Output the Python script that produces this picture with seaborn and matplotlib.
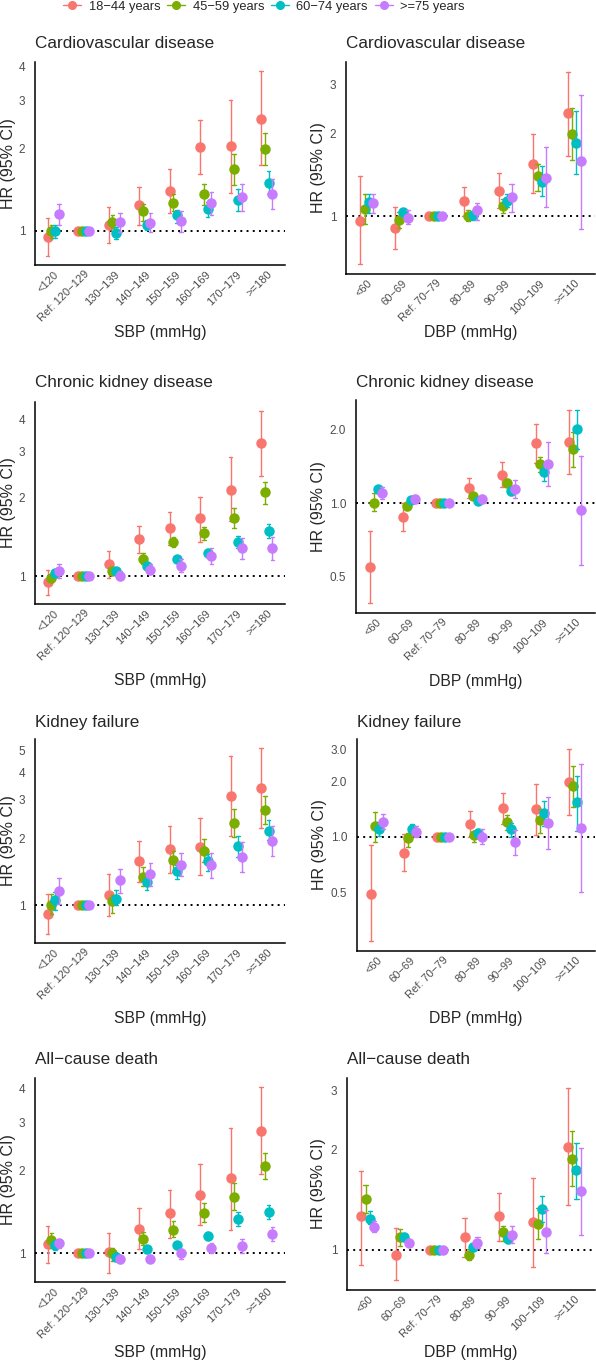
import numpy as np
import pandas as pd
import matplotlib
matplotlib.use("Agg")
import matplotlib.pyplot as plt
import seaborn as sns
from matplotlib.lines import Line2D
from matplotlib.ticker import FixedLocator, FixedFormatter, NullLocator

# ---------------- data ----------------
groups = ["18\u221244 years", "45\u221259 years", "60\u221274 years", ">=75 years"]
colors = ["#F8766D", "#7CAE00", "#00BFC4", "#C77CFF"]

sbp_cats = ["<120", "Ref: 120\u2212129", "130\u2212139", "140\u2212149", "150\u2212159",
            "160\u2212169", "170\u2212179", ">=180"]
dbp_cats = ["<60", "60\u221269", "Ref: 70\u221279", "80\u221289", "90\u221299",
            "100\u2212109", ">=110"]

# Cardiovascular disease - SBP  (rows: age groups; cols: categories)
cvd_sbp_hr = [[0.95, 1, 1.05, 1.24, 1.40, 2.03, 2.04, 2.58],
              [1.00, 1, 1.075, 1.18, 1.27, 1.36, 1.68, 2.00],
              [1.00, 1, 0.98, 1.05, 1.14, 1.20, 1.30, 1.50],
              [1.15, 1, 1.075, 1.07, 1.09, 1.27, 1.33, 1.36]]
cvd_sbp_lo = [[0.81, 1, 0.90, 1.05, 1.16, 1.61, 1.38, 1.74],
              [0.94, 1, 1.02, 1.09, 1.18, 1.24, 1.47, 1.74],
              [0.94, 1, 0.93, 1.01, 1.07, 1.12, 1.18, 1.37],
              [1.05, 1, 0.99, 0.99, 0.99, 1.14, 1.18, 1.20]]
cvd_sbp_hi = [[1.11, 1, 1.22, 1.45, 1.69, 2.56, 3.02, 3.85],
              [1.05, 1, 1.14, 1.25, 1.36, 1.49, 1.91, 2.29],
              [1.05, 1, 1.03, 1.10, 1.19, 1.28, 1.42, 1.66],
              [1.25, 1, 1.16, 1.16, 1.18, 1.39, 1.49, 1.55]]

# Cardiovascular disease - DBP
cvd_dbp_hr = [[0.965, 0.91, 1, 1.14, 1.24, 1.55, 2.36],
              [1.06, 0.97, 1, 1.00, 1.09, 1.40, 1.99],
              [1.13, 1.04, 1, 1.01, 1.14, 1.33, 1.85],
              [1.12, 0.99, 1, 1.05, 1.17, 1.38, 1.58]]
cvd_dbp_lo = [[0.67, 0.76, 1, 1.00, 1.07, 1.21, 1.66],
              [0.94, 0.91, 1, 0.96, 1.025, 1.24, 1.60],
              [1.03, 1.01, 1, 0.97, 1.08, 1.18, 1.42],
              [1.03, 0.94, 1, 0.97, 1.04, 1.08, 0.90]]
cvd_dbp_hi = [[1.40, 1.08, 1, 1.28, 1.43, 1.98, 3.34],
              [1.20, 1.04, 1, 1.05, 1.155, 1.55, 2.47],
              [1.20, 1.06, 1, 1.04, 1.20, 1.52, 2.41],
              [1.20, 1.05, 1, 1.12, 1.31, 1.78, 2.76]]

# Chronic kidney disease - SBP
ckd_sbp_hr = [[0.95, 1, 1.12, 1.39, 1.53, 1.67, 2.15, 3.23],
              [0.99, 1, 1.05, 1.17, 1.35, 1.46, 1.67, 2.10],
              [1.03, 1, 1.05, 1.10, 1.17, 1.23, 1.35, 1.49],
              [1.05, 1, 1.006, 1.06, 1.10, 1.20, 1.28, 1.28]]
ckd_sbp_lo = [[0.85, 1, 0.99, 1.23, 1.32, 1.36, 1.63, 2.42],
              [0.95, 1, 1.02, 1.12, 1.29, 1.38, 1.53, 1.90],
              [1.01, 1, 1.02, 1.07, 1.13, 1.19, 1.28, 1.40],
              [0.99, 1, 0.965, 1.02, 1.04, 1.12, 1.17, 1.16]]
ckd_sbp_hi = [[1.06, 1, 1.25, 1.56, 1.77, 2.02, 2.86, 4.29],
              [1.02, 1, 1.085, 1.23, 1.41, 1.55, 1.82, 2.30],
              [1.06, 1, 1.08, 1.13, 1.20, 1.27, 1.43, 1.59],
              [1.12, 1, 1.05, 1.12, 1.17, 1.28, 1.40, 1.42]]

# Chronic kidney disease - DBP
ckd_dbp_hr = [[0.55, 0.88, 1, 1.155, 1.30, 1.76, 1.78],
              [1.00, 0.975, 1, 1.075, 1.21, 1.44, 1.67],
              [1.14, 1.03, 1, 1.02, 1.12, 1.34, 2.01],
              [1.10, 1.04, 1, 1.04, 1.14, 1.44, 0.94]]
ckd_dbp_lo = [[0.39, 0.77, 1, 1.055, 1.16, 1.46, 1.31],
              [0.93, 0.94, 1, 1.05, 1.17, 1.34, 1.41],
              [1.10, 1.005, 1, 1.00, 1.08, 1.23, 1.67],
              [1.045, 1.00, 1, 1.00, 1.055, 1.18, 0.56]]
ckd_dbp_hi = [[0.77, 1.00, 1, 1.27, 1.47, 2.10, 2.41],
              [1.10, 1.005, 1, 1.09, 1.25, 1.55, 1.96],
              [1.18, 1.05, 1, 1.04, 1.155, 1.44, 2.41],
              [1.16, 1.08, 1, 1.08, 1.24, 1.77, 1.56]]

# Kidney failure - SBP
kf_sbp_hr = [[0.917, 1, 1.117, 1.58, 1.79, 1.83, 3.12, 3.39],
             [1.007, 1, 1.046, 1.35, 1.60, 1.77, 2.36, 2.70],
             [1.053, 1, 1.07, 1.27, 1.43, 1.58, 1.85, 2.18],
             [1.16, 1, 1.30, 1.38, 1.53, 1.53, 1.65, 1.95]]
kf_sbp_lo = [[0.745, 1, 0.90, 1.27, 1.40, 1.37, 2.06, 2.24],
             [0.91, 1, 0.92, 1.23, 1.42, 1.57, 2.03, 2.34],
             [0.956, 1, 1.00, 1.18, 1.32, 1.43, 1.65, 1.97],
             [1.02, 1, 1.14, 1.22, 1.36, 1.33, 1.41, 1.68]]
kf_sbp_hi = [[1.13, 1, 1.38, 1.95, 2.28, 2.48, 4.74, 5.13],
             [1.13, 1, 1.12, 1.49, 1.77, 1.99, 2.73, 3.12],
             [1.15, 1, 1.17, 1.37, 1.52, 1.71, 2.07, 2.42],
             [1.33, 1, 1.46, 1.55, 1.72, 1.73, 1.93, 2.29]]

# Kidney failure - DBP
kf_dbp_hr = [[0.49, 0.82, 1, 1.17, 1.43, 1.41, 1.98],
             [1.14, 0.98, 1, 1.02, 1.20, 1.24, 1.88],
             [1.11, 1.11, 1, 1.055, 1.10, 1.34, 1.54],
             [1.21, 1.06, 1, 1.00, 0.94, 1.19, 1.12]]
kf_dbp_lo = [[0.27, 0.65, 1, 1.00, 1.18, 1.025, 1.31],
             [0.935, 0.886, 1, 0.94, 1.09, 1.055, 1.45],
             [1.01, 1.055, 1, 1.00, 1.00, 1.14, 1.08],
             [1.105, 1.00, 1, 0.91, 0.80, 0.86, 0.50]]
kf_dbp_hi = [[0.905, 1.03, 1, 1.38, 1.73, 1.94, 3.02],
             [1.36, 1.055, 1, 1.08, 1.32, 1.41, 2.44],
             [1.21, 1.17, 1, 1.10, 1.19, 1.57, 2.14],
             [1.33, 1.14, 1, 1.10, 1.09, 1.64, 2.49]]

# All-cause death - SBP
acd_sbp_hr = [[1.08, 1, 1.014, 1.23, 1.41, 1.63, 1.88, 2.80],
              [1.12, 1, 1.006, 1.125, 1.22, 1.41, 1.61, 2.08],
              [1.07, 1, 0.97, 1.035, 1.07, 1.16, 1.34, 1.42],
              [1.09, 1, 0.95, 0.956, 1.00, 1.05, 1.06, 1.18]]
acd_sbp_lo = [[0.925, 1, 0.85, 1.035, 1.14, 1.27, 1.22, 1.95],
              [1.05, 1, 0.94, 1.07, 1.15, 1.30, 1.44, 1.87],
              [1.025, 1, 0.94, 1.005, 1.04, 1.12, 1.26, 1.34],
              [1.05, 1, 0.925, 0.93, 0.956, 1.005, 1.00, 1.11]]
acd_sbp_hi = [[1.26, 1, 1.19, 1.47, 1.71, 2.12, 2.86, 4.04],
              [1.19, 1, 1.05, 1.20, 1.31, 1.53, 1.80, 2.32],
              [1.12, 1, 1.005, 1.06, 1.10, 1.20, 1.42, 1.50],
              [1.125, 1, 0.97, 0.983, 1.035, 1.09, 1.125, 1.25]]

# All-cause death - DBP
acd_dbp_hr = [[1.26, 0.966, 1, 1.09, 1.26, 1.21, 2.04],
              [1.42, 1.09, 1, 0.966, 1.13, 1.20, 1.87],
              [1.24, 1.09, 1, 1.018, 1.08, 1.33, 1.74],
              [1.17, 1.05, 1, 1.047, 1.11, 1.13, 1.50]]
acd_dbp_lo = [[0.90, 0.81, 1, 0.955, 1.066, 0.89, 1.36],
              [1.29, 1.03, 1, 0.93, 1.06, 1.08, 1.55],
              [1.20, 1.06, 1, 0.995, 1.047, 1.21, 1.42],
              [1.13, 1.03, 1, 1.01, 1.047, 0.98, 1.11]]
acd_dbp_hi = [[1.73, 1.16, 1, 1.25, 1.48, 1.64, 3.07],
              [1.57, 1.155, 1, 1.007, 1.18, 1.34, 2.27],
              [1.31, 1.12, 1, 1.04, 1.12, 1.45, 2.10],
              [1.22, 1.075, 1, 1.09, 1.18, 1.32, 2.02]]

titles = ["Cardiovascular disease", "Chronic kidney disease", "Kidney failure",
          "All\u2212cause death"]

# ---------------- style ----------------
sns.set_style("white")
plt.rcParams["font.family"] = ["Liberation Sans", "DejaVu Sans"]

W, H = 596, 1364
fig = plt.figure(figsize=(W / 100, H / 100), dpi=100)

# panel boxes in pixels: left, top, right, bottom ; title center y ; xlabel center y ; ylabel center x
panels = [
    (titles[0], sbp_cats, "SBP (mmHg)", cvd_sbp_hr, cvd_sbp_lo, cvd_sbp_hi, [1, 2, 3, 4], ["1", "2", "3", "4"],
     (35, 62, 285, 265), 43, 333, 9),
    (titles[0], dbp_cats, "DBP (mmHg)", cvd_dbp_hr, cvd_dbp_lo, cvd_dbp_hi, [1, 2, 3], ["1", "2", "3"],
     (346, 62, 595, 274), 43, 333, 319),
    (titles[1], sbp_cats, "SBP (mmHg)", ckd_sbp_hr, ckd_sbp_lo, ckd_sbp_hi, [1, 2, 3, 4], ["1", "2", "3", "4"],
     (35, 402, 285, 604), 382, 680, 9),
    (titles[1], dbp_cats, "DBP (mmHg)", ckd_dbp_hr, ckd_dbp_lo, ckd_dbp_hi, [0.5, 1, 2], ["0.5", "1.0", "2.0"],
     (356, 400, 595, 613), 382, 681, 319),
    (titles[2], sbp_cats, "SBP (mmHg)", kf_sbp_hr, kf_sbp_lo, kf_sbp_hi, [1, 2, 3, 4, 5], ["1", "2", "3", "4", "5"],
     (35, 739, 285, 943), 722, 1018, 9),
    (titles[2], dbp_cats, "DBP (mmHg)", kf_dbp_hr, kf_dbp_lo, kf_dbp_hi, [0.5, 1, 2, 3], ["0.5", "1.0", "2.0", "3.0"],
     (357, 739, 595, 951), 722, 1019, 319),
    (titles[3], sbp_cats, "SBP (mmHg)", acd_sbp_hr, acd_sbp_lo, acd_sbp_hi, [1, 2, 3, 4], ["1", "2", "3", "4"],
     (35, 1078, 285, 1282), 1059, 1353, 9),
    (titles[3], dbp_cats, "DBP (mmHg)", acd_dbp_hr, acd_dbp_lo, acd_dbp_hi, [1, 2, 3], ["1", "2", "3"],
     (347, 1078, 595, 1290), 1059, 1353, 319),
]

for (title, cats, xlab, hr, lo, hi, yt, ytl, box, ty, xly, ylx) in panels:
    l, t, r, b = box
    ax = fig.add_axes([l / W, 1 - b / H, (r - l) / W, (b - t) / H])
    rows = []
    for gi, g in enumerate(groups):
        for ci, c in enumerate(cats):
            for v in (lo[gi][ci], hr[gi][ci], hi[gi][ci]):
                rows.append((c, g, v))
    df = pd.DataFrame(rows, columns=["cat", "group", "hr"])
    ax.set_yscale("log")
    ax.axhline(1, color="black", lw=1.4, linestyle=(0, (1, 2.2)), zorder=1)
    sns.pointplot(data=df, x="cat", y="hr", hue="group", order=cats, hue_order=groups,
                  palette=colors, estimator="median", errorbar=("pi", 100),
                  dodge=0.375, markers="o", linestyle="none", markersize=5.5,
                  capsize=0.12, err_kws={"linewidth": 1.0}, legend=False, ax=ax)
    # ggplot-like 5% expansion on the log scale
    ymin = min(min(x) for x in lo)
    ymax = max(max(x) for x in hi)
    lr = np.log(ymax) - np.log(ymin)
    ax.set_ylim(np.exp(np.log(ymin) - 0.05 * lr), np.exp(np.log(ymax) + 0.05 * lr))
    ax.set_xlim(-0.6, len(cats) - 0.4)
    ax.yaxis.set_major_locator(FixedLocator(yt))
    ax.yaxis.set_major_formatter(FixedFormatter(ytl))
    ax.yaxis.set_minor_locator(NullLocator())
    for s in ["top", "right"]:
        ax.spines[s].set_visible(False)
    for s in ["left", "bottom"]:
        ax.spines[s].set_color("black")
        ax.spines[s].set_linewidth(1.1)
    ax.tick_params(axis="y", length=0, pad=7, labelsize=8.5, labelcolor="#4D4D4D")
    ax.tick_params(axis="x", length=0, pad=3, labelsize=8, labelcolor="#4D4D4D")
    ax.set_xticks(range(len(cats)))
    ax.set_xticklabels(cats, rotation=45, ha="right", rotation_mode="anchor")
    ax.set_xlabel(xlab, fontsize=11.3, va="center")
    ax.xaxis.set_label_coords(0.5, (b - xly) / (b - t))
    ax.set_ylabel("HR (95% CI)", fontsize=11.5, va="center")
    ax.yaxis.set_label_coords((ylx - l) / (r - l), 0.5)
    ax.grid(False)
    fig.text(l / W, 1 - ty / H, title, fontsize=12.3, ha="left", va="center")

handles = [Line2D([0], [0], color=c, marker="o", markersize=5.5, lw=1.0) for c in colors]
fig.legend(handles, groups, loc="center", bbox_to_anchor=(264 / W, 1 - 7 / H), ncol=4,
           frameon=False, fontsize=9.3, handlelength=1.4, handletextpad=0.55, columnspacing=0.55)

fig.savefig("out.png", dpi=100)
